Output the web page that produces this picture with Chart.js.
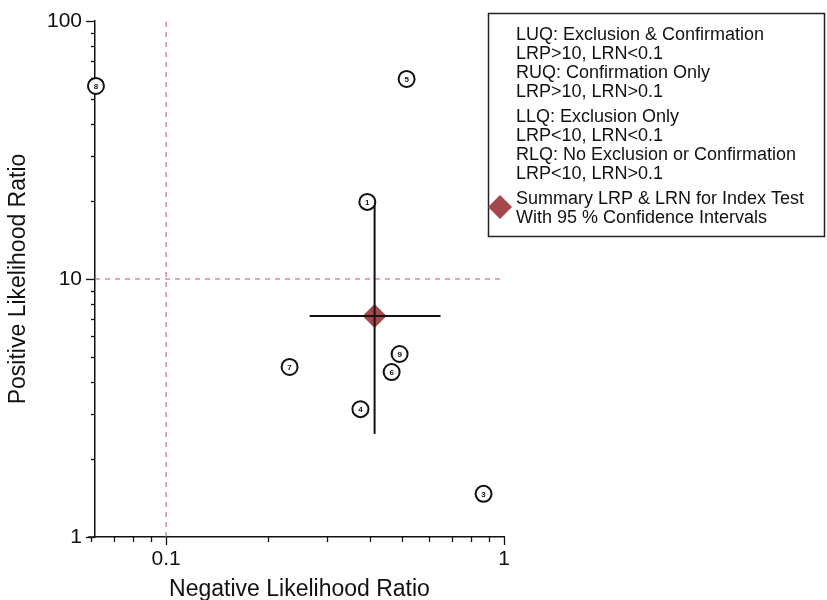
<!DOCTYPE html>
<html><head><meta charset="utf-8">
<script src="https://cdn.jsdelivr.net/npm/chart.js@4/dist/chart.umd.min.js"></script>
<style>html,body{margin:0;padding:0;background:#fff}#wrap{width:827px;height:600px;position:relative}</style>
</head><body><div id="wrap"><canvas id="c"></canvas></div>
<script>
// ---- data ----
const studyLabels = ['1','3','4','5','6','7','8','9'];
const studyLRN = [0.394, 0.870, 0.376, 0.515, 0.465, 0.232, 0.062, 0.491];
const studyLRP = [19.9, 1.47, 3.13, 59.6, 4.36, 4.56, 56, 5.12];
const summaryLRN = 0.414, summaryLRP = 7.19;
const lrnCI = [0.266, 0.649];
const lrpCI = [2.51, 20.4];
const xMajorTicks = [0.1, 1];
const xMinorTicks = [0.06, 0.07, 0.08, 0.09, 0.2, 0.3, 0.4, 0.5, 0.6, 0.7, 0.8, 0.9];
const yMajorTicks = [1, 10, 100];
const yMinorTicks = [2,3,4,5,6,7,8,9,20,30,40,50,60,70,80,90];
const legendLines = [
  ['LUQ: Exclusion & Confirmation','LRP>10, LRN<0.1','RUQ: Confirmation Only','LRP>10, LRN>0.1'],
  ['LLQ: Exclusion Only','LRP<10, LRN<0.1','RLQ: No Exclusion or Confirmation','LRP<10, LRN>0.1'],
  ['Summary LRP & LRN for Index Test','With 95 % Confidence Intervals']
];
const FONT = '"Liberation Sans", Arial, Helvetica, sans-serif';
const DIAMOND = '#a6474c';
const DASH = 'rgb(205,75,105)';

const studies = studyLRN.map((x,i)=>({x, y: studyLRP[i]}));

const extras = {
  id: 'extras',
  afterDatasetsDraw(chart) {
    const ctx = chart.ctx, xs = chart.scales.x, ys = chart.scales.y, a = chart.chartArea;
    ctx.save();
    // tick marks
    ctx.strokeStyle = '#111'; ctx.lineWidth = 1.3;
    const tick = (x1,y1,x2,y2)=>{ctx.beginPath();ctx.moveTo(x1,y1);ctx.lineTo(x2,y2);ctx.stroke();};
    yMajorTicks.forEach(v=>{const p=Math.round(ys.getPixelForValue(v))+0.5; tick(a.left-9,p,a.left,p);});
    yMinorTicks.forEach(v=>{const p=Math.round(ys.getPixelForValue(v))+0.5; tick(a.left-4,p,a.left,p);});
    xMajorTicks.forEach(v=>{const p=Math.round(xs.getPixelForValue(v))+0.5; tick(p,a.bottom,p,a.bottom+8);});
    xMinorTicks.forEach(v=>{const p=Math.round(xs.getPixelForValue(v))+0.5; tick(p,a.bottom,p,a.bottom+5);});
    // extend x axis line slightly left like reference
    ctx.lineWidth = 1.5; tick(xs.getPixelForValue(0.06)-3, a.bottom, a.left, a.bottom);
    // study numbers
    const meta = chart.getDatasetMeta(0);
    ctx.fillStyle = '#111'; ctx.font = 'bold 8px ' + FONT;
    ctx.textAlign = 'center'; ctx.textBaseline = 'middle';
    meta.data.forEach((pt,i)=>{ ctx.fillText(studyLabels[i], pt.x, pt.y+0.5); });
    // legend box
    const bx=488, by=13, bw=337, bh=224;
    ctx.fillStyle='#fff'; ctx.fillRect(bx,by,bw,bh);
    ctx.strokeStyle='#222'; ctx.lineWidth=1.5; ctx.strokeRect(bx+0.5,by+0.5,bw-1,bh-1);
    ctx.fillStyle='#111'; ctx.font='18px '+FONT; ctx.textAlign='left'; ctx.textBaseline='middle';
    const starts=[35,117,199]; const lh=19;
    legendLines.forEach((grp,g)=>grp.forEach((t,k)=>ctx.fillText(t,516,starts[g]+k*lh)));
    // legend diamond
    const dx=500, dy=207, r=12;
    ctx.fillStyle=DIAMOND; ctx.beginPath();
    ctx.moveTo(dx,dy-r);ctx.lineTo(dx+r,dy);ctx.lineTo(dx,dy+r);ctx.lineTo(dx-r,dy);ctx.closePath();ctx.fill();
    ctx.restore();
  }
};

new Chart(document.getElementById('c'), {
  type: 'scatter',
  data: { datasets: [
    { label:'Studies', data: studies, order:0, clip:false, pointRadius:8, pointHoverRadius:8, pointStyle:'circle',
      borderColor:'#111', backgroundColor:'#fff', borderWidth:2 },
    { label:'LRN CI', data:[{x:lrnCI[0],y:summaryLRP},{x:lrnCI[1],y:summaryLRP}], showLine:true, order:1,
      pointRadius:0, borderColor:'#111', borderWidth:2 },
    { label:'LRP CI', data:[{x:summaryLRN,y:lrpCI[0]},{x:summaryLRN,y:lrpCI[1]}], showLine:true, order:1,
      pointRadius:0, borderColor:'#111', borderWidth:2 },
    { label:'Summary', data:[{x:summaryLRN,y:summaryLRP}], order:2, pointStyle:'rectRot', pointRadius:12,
      backgroundColor:DIAMOND, borderColor:DIAMOND, borderWidth:0 },
    { label:'ref x', data:[{x:0.1,y:1},{x:0.1,y:100}], showLine:true, order:5, pointRadius:0,
      borderColor:DASH, borderWidth:1, borderDash:[5,5] },
    { label:'ref y', data:[{x:0.0616,y:10},{x:1,y:10}], showLine:true, order:5, pointRadius:0,
      borderColor:DASH, borderWidth:1, borderDash:[5,5] }
  ]},
  options: {
    responsive:true, maintainAspectRatio:false, animation:false,
    events: [],
    layout: { padding: { left:0, right:323, top:21, bottom:0 } },
    plugins: { legend:{display:false}, tooltip:{enabled:false} },
    scales: {
      x: { type:'logarithmic', min:0.0616, max:1,
        afterBuildTicks: s => { s.ticks = xMajorTicks.map(v=>({value:v})); },
        afterFit: s => { s.height = 63; s.paddingLeft = 0; s.paddingRight = 0; },
        grid:{display:false, drawTicks:false}, border:{display:true, color:'#111', width:1.5},
        ticks:{ autoSkip:false, maxRotation:0, padding:10, color:'#111', font:{family:FONT, size:21},
          callback: v => String(v) },
        title:{ display:true, text:'Negative Likelihood Ratio', color:'#111', font:{family:FONT, size:23}, padding:{top:0,bottom:-3} }
      },
      y: { type:'logarithmic', min:1, max:100,
        afterBuildTicks: s => { s.ticks = yMajorTicks.map(v=>({value:v})); },
        afterFit: s => { s.width = 95; s.paddingTop = 0; s.paddingBottom = 0; },
        grid:{display:false, drawTicks:false}, border:{display:true, color:'#111', width:1.5},
        ticks:{ autoSkip:false, padding:13, color:'#111', font:{family:FONT, size:21},
          callback: v => String(v) },
        title:{ display:true, text:'Positive Likelihood Ratio', color:'#111', font:{family:FONT, size:23}, padding:{top:5,bottom:0} }
      }
    }
  },
  plugins:[extras]
});
</script></body></html>
